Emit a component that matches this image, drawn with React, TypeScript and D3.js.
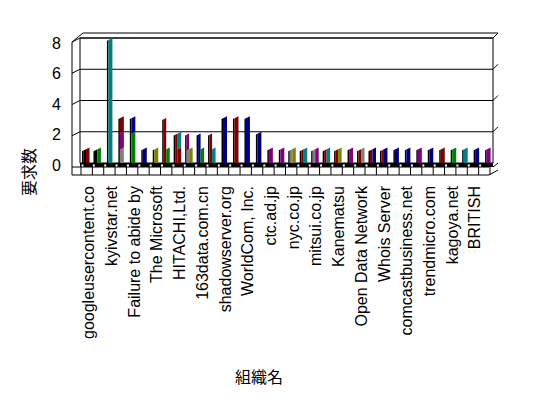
import React from "react";
import * as d3 from "d3";

const W = 548;
const H = 398;
const N = 36;

// tick labels (every other category carries a label)
const labels = [
  "googleusercontent.co", "kyivstar.net", "Failure to abide by", "The Microsoft",
  "HITACHI,Ltd.", "163data.com.cn", "shadowserver.org", "WorldCom, Inc.",
  "ctc.ad.jp", "nyc.co.jp", "mitsui.co.jp", "Kanematsu", "Open Data Network",
  "Whois Server", "comcastbusiness.net", "trendmicro.com", "kagoya.net", "BRITISH",
];
const yTicks = [0, 2, 4, 6, 8];
const gridValues = [2, 4, 6, 8];

// front (right) column series, stacked bottom -> top
const rGray = [0,0,0,1,0,0,0,0,0,0, 0,0,0,0,0,0,0,0,0,0, 0,0,0,0,1,0,0,0,0,0, 0,0,0,0,0,0];
const rGreen = [0,1,0,0,2,0,0,1,0,0, 1,0,0,0,0,0,0,0,0,0, 0,0,0,0,0,0,0,0,0,0, 0,0,1,0,0,0];
const rOlive = [0,0,0,0,0,0,1,0,0,1, 0,0,0,0,0,0,0,0,1,0, 0,0,1,0,0,0,0,0,0,0, 0,0,0,0,0,0];
const rMagenta = [0,0,0,1,0,0,0,0,0,0, 0,0,0,0,0,0,1,1,0,0, 1,0,0,1,0,0,0,0,0,1, 0,0,0,0,0,1];
const rDarkRed = [1,0,0,1,0,0,0,0,1,0, 0,0,0,3,0,0,0,0,0,0, 0,0,0,0,0,0,0,0,0,0, 0,1,0,0,0,0];
const rTeal = [0,0,8,0,0,0,0,0,1,0, 0,1,0,0,0,0,0,0,0,1, 0,1,0,0,0,0,0,0,0,0, 0,0,0,1,0,0];
const rNavy = [0,0,0,0,1,1,0,0,0,0, 0,0,3,0,3,2,0,0,0,0, 0,0,0,0,0,1,1,1,1,0, 1,0,0,0,1,0];

// back (left) column series, stacked bottom -> top
const lBlack = [1,1,0,0,0,0,0,0,0,0, 0,0,0,0,0,0,0,0,0,0, 0,0,0,0,0,0,0,0,0,0, 0,0,0,0,0,0];
const lGray = [0,0,0,0,0,0,0,0,0,1, 0,0,0,0,0,0,0,0,1,0, 1,0,0,0,0,0,0,0,0,0, 0,0,0,0,0,0];
const lMagenta = [0,0,0,0,0,0,0,0,0,1, 0,0,0,0,0,0,0,0,0,0, 0,0,0,0,0,0,0,0,0,0, 0,0,0,0,0,0];
const lDarkRed = [0,0,0,0,0,0,0,3,2,0, 0,2,0,0,0,0,0,0,0,1, 0,1,1,0,1,1,1,0,0,0, 0,0,0,0,0,0];
const lNavy = [0,0,0,0,0,0,0,0,0,0, 2,0,0,0,0,0,0,0,0,0, 0,0,0,0,0,0,0,0,0,0, 0,0,0,0,0,0];

const colors: Record<string, string> = {
  black: "#000000",
  gray: "#808080",
  green: "#008000",
  olive: "#808000",
  magenta: "#800080",
  darkred: "#800000",
  teal: "#008080",
  navy: "#000080",
};

const rSeries: Record<string, number[]> = {
  gray: rGray, green: rGreen, olive: rOlive, magenta: rMagenta,
  darkred: rDarkRed, teal: rTeal, navy: rNavy,
};
const lSeries: Record<string, number[]> = {
  black: lBlack, gray: lGray, magenta: lMagenta, darkred: lDarkRed, navy: lNavy,
};

const idx = d3.range(N);
const rRows = idx.map((i) => {
  const o: Record<string, number> = {};
  Object.keys(rSeries).forEach((k) => (o[k] = rSeries[k][i]));
  return o;
});
const lRows = idx.map((i) => {
  const o: Record<string, number> = {};
  Object.keys(lSeries).forEach((k) => (o[k] = lSeries[k][i]));
  return o;
});
const rStack = d3.stack<Record<string, number>>().keys(Object.keys(rSeries))(rRows);
const lStack = d3.stack<Record<string, number>>().keys(Object.keys(lSeries))(lRows);

const xBar = d3.scaleBand<number>().domain(idx).range([82, 82 + N * 11.46]);
const xFront = d3.scaleBand<number>().domain(idx).range([81, 490]);
const yBar = d3.scaleLinear().domain([0, 8]).range([163, 38]);
const yLab = d3.scaleLinear().domain([0, 8]).range([165.5, 43]);

const FONT = "'Liberation Sans', Arial, sans-serif";
const CJK = "'Noto Sans CJK JP', sans-serif";

export default function App() {
  const slope = 0.5;
  const polys: React.ReactNode[] = [];

  idx.forEach((i) => {
    const bx = xBar(i)!;
    const xr = bx + 7.5;
    const yy = (v: number, x: number) => (v === 0 ? yBar(0) : yBar(v) + slope * (xr - x));
    const lTop = d3.max(lStack, (s) => s[i][1]) || 0;
    const rTop = d3.max(rStack, (s) => s[i][1]) || 0;
    const hasL = lTop > 0;
    const rA = hasL ? bx + 4 : bx + 3.5;
    const seg = (a: number, b: number, v0: number, v1: number, fill: string, key: string) => {
      const pts = [
        [a, yy(v0, a)], [a, yy(v1, a)], [b, yy(v1, b)], [b, yy(v0, b)],
      ];
      polys.push(<polygon key={key} points={pts.map((p) => p.join(",")).join(" ")} fill={fill} />);
    };
    // dark side edge
    if (hasL) {
      seg(bx, bx + 1.5, 0, lTop, "#000000", `e${i}`);
      lStack.forEach((s) => {
        const [v0, v1] = s[i];
        if (v1 > v0) seg(bx + 1.5, bx + 4, v0, v1, colors[s.key], `l${i}${s.key}`);
      });
    } else if (rTop > 0) {
      seg(bx + 2, bx + 3.5, 0, rTop, "#000000", `e${i}`);
    }
    rStack.forEach((s) => {
      const [v0, v1] = s[i];
      if (v1 > v0) seg(rA, xr, v0, v1, colors[s.key], `r${i}${s.key}`);
    });
  });

  const frontL = 72, backL = 80, backR = 493, outerR = 498, frontR = 489;
  const floorTop = yBar(0), boxTop = 167, boxBot = 175;

  return (
    <div style={{ position: "fixed", left: 0, top: 0, width: W, height: H, background: "#fff" }}>
      <svg width={W} height={H} style={{ display: "block" }}>
        <rect width={W} height={H} fill="#fff" />
        <g stroke="#000" strokeWidth={1} fill="none">
          {/* back wall */}
          <line x1={backL} x2={backR} y1={yBar(8)} y2={yBar(8)} />
          <line x1={83} x2={outerR} y1={33} y2={33} />
          <line x1={frontL} y1={yBar(8) + 4} x2={83} y2={33} />
          <line x1={backL} x2={backL} y1={yBar(8)} y2={floorTop} />
          <line x1={backR} x2={backR} y1={yBar(8)} y2={floorTop} />
          <line x1={frontL} x2={frontL} y1={yBar(8) + 4} y2={boxBot} />
          {gridValues.map((v) => (
            <g key={v}>
              <line x1={backL} x2={backR} y1={yBar(v)} y2={yBar(v)} />
              <line x1={frontL} y1={yBar(v) + 4} x2={backL} y2={yBar(v)} />
              <line x1={backR} y1={yBar(v)} x2={outerR} y2={yBar(v) - 5} />
            </g>
          ))}
          {/* category box */}
          <line x1={frontL} x2={frontR} y1={boxTop} y2={boxTop} />
          <line x1={frontL} x2={frontR} y1={boxBot} y2={boxBot} />
          <line x1={frontR} y1={boxBot} x2={outerR} y2={boxBot - 5} />
          <line x1={backR} y1={floorTop + 4} x2={outerR} y2={floorTop} />
          {idx.concat([N]).map((k) => {
            const x = k < N ? xFront(k)! : xFront.range()[1];
            return <line key={k} x1={x} x2={x} y1={boxTop} y2={boxBot} />;
          })}
        </g>
        {/* floor slab */}
        <rect x={backL} y={floorTop - 0.5} width={backR - backL} height={boxTop - floorTop + 0.5} fill="#000" />
        {idx.map((k) => (
          <rect key={k} x={xFront(k)! + 0.5} y={floorTop + 1.5} width={2} height={2} fill="#fff" />
        ))}
        {polys}
        {/* y axis labels */}
        {yTicks.map((v) => (
          <text key={v} x={61} y={yLab(v)} textAnchor="end" dominantBaseline="central"
            fontFamily={FONT} fontSize={16} fill="#000">{v}</text>
        ))}
        {/* category labels */}
        {labels.map((t, k) => {
          const x = xFront(2 * k)! + xFront.bandwidth() / 2 + 2;
          const y = 186;
          return (
            <text key={t} transform={`translate(${x},${y}) rotate(-90)`} textAnchor="end"
              dominantBaseline="central" fontFamily={FONT} fontSize={16} fill="#000">{t}</text>
          );
        })}
        <text transform="translate(28,172) rotate(-90)" textAnchor="middle" dominantBaseline="central"
          fontFamily={CJK} fontSize={16} fill="#000">要求数</text>
        <text x={259} y={376} textAnchor="middle" dominantBaseline="central"
          fontFamily={CJK} fontSize={16} fill="#000">組織名</text>
      </svg>
    </div>
  );
}
